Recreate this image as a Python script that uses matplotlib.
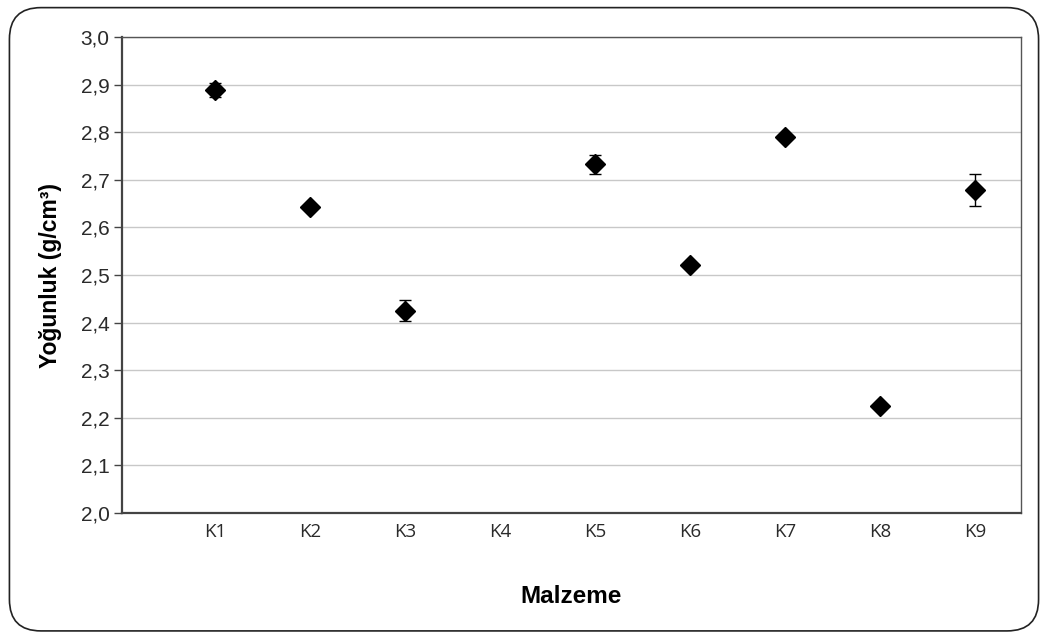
import matplotlib
matplotlib.use("Agg")
import matplotlib.pyplot as plt
from matplotlib.patches import FancyBboxPatch

categories = ["K1", "K2", "K3", "K4", "K5", "K6", "K7", "K8", "K9"]
density = [2.889, 2.643, 2.425, None, 2.733, 2.520, 2.789, 2.225, 2.679]
errors = [0.015, 0.006, 0.022, None, 0.020, 0.006, 0.005, 0.006, 0.034]
yticks = [2.0, 2.1, 2.2, 2.3, 2.4, 2.5, 2.6, 2.7, 2.8, 2.9, 3.0]

fig = plt.figure(figsize=(10.48, 6.36), dpi=100)
frame = FancyBboxPatch((0.009, 0.008), 0.982, 0.98,
                       boxstyle="round,pad=0,rounding_size=0.03",
                       transform=fig.transFigure, facecolor="none",
                       edgecolor="#222222", linewidth=1.2, mutation_aspect=1048/636,
                       zorder=-5)
fig.patches.append(frame)

ax = fig.add_axes([0.1164, 0.1934, 0.8578, 0.7484])
ax.set_facecolor("none")
xs = [i + 1 for i, v in enumerate(density) if v is not None]
ys = [v for v in density if v is not None]
es = [e for e, v in zip(errors, density) if v is not None]
ax.errorbar(xs, ys, yerr=es, fmt="D", color="black", markersize=10,
            ecolor="black", elinewidth=1.0, capsize=4.5, capthick=1.0, zorder=3)

ax.set_ylim(2.0, 3.0)
ax.set_xlim(0.02, 9.48)
ax.set_yticks(yticks)
ax.set_yticklabels([f"{t:.1f}".replace(".", ",") for t in yticks],
                   fontsize=15, family="Liberation Sans", color="#2a2a2a")
ax.set_xticks(range(1, 10))
ax.set_xticklabels(categories, fontsize=13.5, family="Open Sans", color="#2a2a2a")
ax.tick_params(axis="x", length=0, pad=7)
ax.tick_params(axis="y", length=6, width=1, color="#444444", pad=3)
ax.yaxis.grid(True, color="#c8c8c8", linewidth=1)
ax.set_axisbelow(True)
for s in ["left", "bottom"]:
    ax.spines[s].set_color("#444444")
    ax.spines[s].set_linewidth(1.6)
for s in ["top", "right"]:
    ax.spines[s].set_color("#555555")
    ax.spines[s].set_linewidth(1.0)

ax.set_ylabel("Yoğunluk (g/cm³)", fontsize=16.5, fontweight="bold",
              family="Liberation Sans", labelpad=13)
ax.set_xlabel("Malzeme", fontsize=17.5, fontweight="bold",
              family="Liberation Sans", labelpad=32)

fig.savefig("out.png", dpi=100, facecolor="white")
